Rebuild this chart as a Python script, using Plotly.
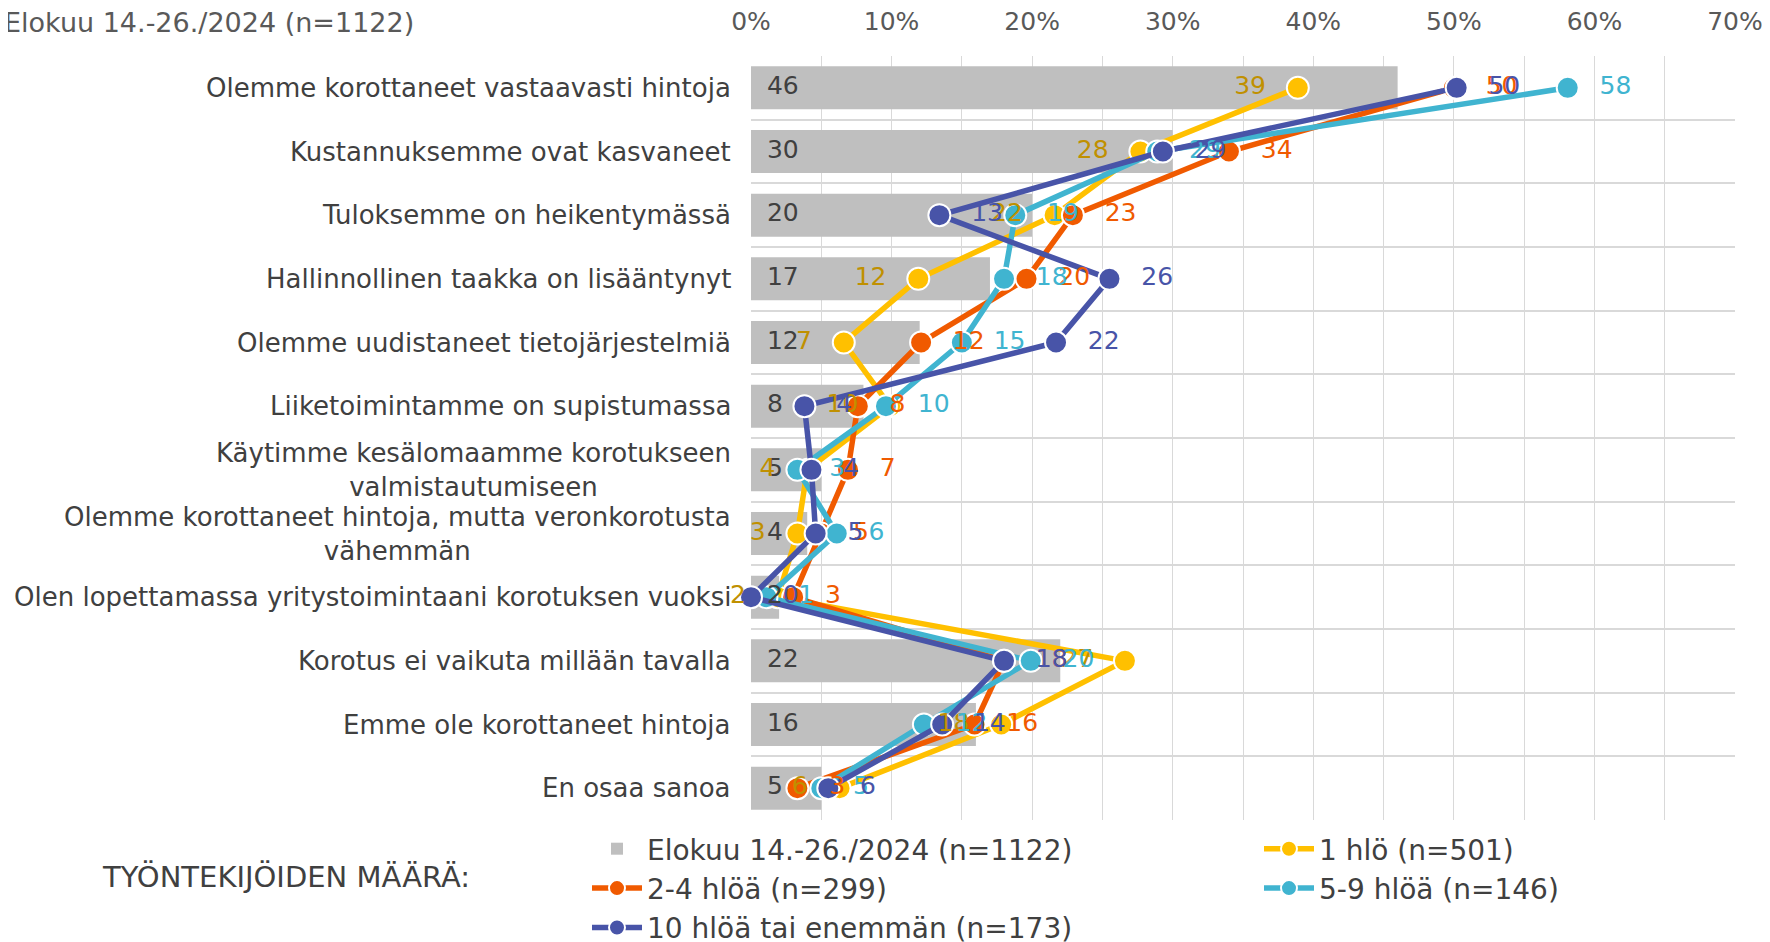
import plotly.graph_objects as go

categories = [
    "Olemme korottaneet vastaavasti hintoja",
    "Kustannuksemme ovat kasvaneet",
    "Tuloksemme on heikentymässä",
    "Hallinnollinen taakka on lisääntynyt",
    "Olemme uudistaneet tietojärjestelmiä",
    "Liiketoimintamme on supistumassa",
    "Käytimme kesälomaamme korotukseen<br>valmistautumiseen",
    "Olemme korottaneet hintoja, mutta veronkorotusta<br>vähemmän",
    "Olen lopettamassa yritystoimintaani korotuksen vuoksi",
    "Korotus ei vaikuta millään tavalla",
    "Emme ole korottaneet hintoja",
    "En osaa sanoa",
]
total_2024 = [46, 30, 20, 17, 12, 8, 5, 4, 2, 22, 16, 5]
hlo_1 = [38.9, 27.7, 21.6, 11.9, 6.6, 9.9, 4.0, 3.3, 1.9, 26.6, 17.8, 6.3]
hlo_2_4 = [50.0, 34.0, 22.9, 19.6, 12.1, 7.6, 6.9, 5.0, 3.0, 18.0, 15.9, 3.3]
hlo_5_9 = [58.1, 28.9, 18.8, 18.0, 15.0, 9.6, 3.3, 6.1, 1.1, 19.9, 12.3, 5.0]
hlo_10 = [50.2, 29.3, 13.4, 25.5, 21.7, 3.8, 4.3, 4.6, 0.0, 18.0, 13.6, 5.5]

series_names = ["1 hlö (n=501)", "2-4 hlöä (n=299)", "5-9 hlöä (n=146)", "10 hlöä tai enemmän (n=173)"]
bar_name = "Elokuu 14.-26./2024 (n=1122)"
title_text = "Elokuu 14.-26./2024 (n=1122)"
legend_title = "TYÖNTEKIJÖIDEN MÄÄRÄ:"
x_ticks = [0, 10, 20, 30, 40, 50, 60, 70]

FONT = "DejaVu Sans"
NB = "\u00a0"


def rnd(v):
    return int(v + 0.5)


fig = go.Figure()

fig.add_trace(go.Bar(
    x=total_2024, y=categories, orientation="h", name=bar_name,
    marker=dict(color="#BFBFBF", line=dict(width=0)), width=0.675,
    hoverinfo="x+y",
))

series = [
    (hlo_1, series_names[0], "#FFC000", "#C09000", "left"),
    (hlo_2_4, series_names[1], "#F05A00", "#F05A00", "right"),
    (hlo_5_9, series_names[2], "#40B4D0", "#40B4D0", "right"),
    (hlo_10, series_names[3], "#4854A8", "#4854A8", "right"),
]
# lines and markers first
for vals, name, col, lcol, side in series:
    fig.add_trace(go.Scatter(
        x=vals, y=categories, mode="lines+markers", name=name,
        line=dict(color=col, width=5.5),
        marker=dict(size=22, color=col, line=dict(color="white", width=2)),
        cliponaxis=False,
    ))

# data labels drawn on top of all marks
fig.add_trace(go.Scatter(
    x=[0] * len(total_2024), y=categories, mode="text",
    text=[NB + NB + str(v) for v in total_2024], textposition="middle right",
    textfont=dict(family=FONT, size=25, color="#404040"),
    showlegend=False, hoverinfo="skip", cliponaxis=False,
))
for vals, name, col, lcol, side in series:
    if side == "left":
        txt = [str(rnd(v)) + NB * 4 for v in vals]
        pos = "middle left"
    else:
        txt = [NB * 4 + str(rnd(v)) for v in vals]
        pos = "middle right"
    fig.add_trace(go.Scatter(
        x=vals, y=categories, mode="text", text=txt, textposition=pos,
        textfont=dict(family=FONT, size=25, color=lcol),
        showlegend=False, hoverinfo="skip", cliponaxis=False,
    ))

# page body has an 8px margin: work in screen pixels and convert
OFF = 8
W, H = 1770 - OFF, 942 - OFF
PL, PR, PT, PB = 751, 1735, 56, 820  # plot area in screen pixels
L, T = PL - OFF, PT - OFF
R = W - (PR - OFF)
B = H - (PB - OFF)
pw = W - L - R
ph = H - T - B


def px_x(p):
    return (p - OFF - L) / pw


def px_y(p):
    return (H - B - (p - OFF)) / ph


annotations = []
for c in categories:
    annotations.append(dict(
        x=px_x(733), xref="paper", y=c, yref="y", text=c, showarrow=False,
        xanchor="right", yanchor="middle", align="center",
        font=dict(family=FONT, size=26, color="#404040"),
    ))
annotations.append(dict(
    x=px_x(416), xref="paper", y=px_y(22), yref="paper", text=title_text,
    showarrow=False, xanchor="right", yanchor="middle",
    font=dict(family=FONT, size=27, color="#595959"),
))
annotations.append(dict(
    x=px_x(100), xref="paper", y=px_y(877), yref="paper", text=legend_title,
    showarrow=False, xanchor="left", yanchor="middle",
    font=dict(family=FONT, size=29, color="#404040"),
))

fig.update_layout(
    width=W, height=H,
    margin=dict(l=L, r=R, t=T, b=B, autoexpand=False),
    paper_bgcolor="white", plot_bgcolor="white",
    font=dict(family=FONT, color="#404040"),
    bargap=0.325,
    showlegend=True,
    legend=dict(
        orientation="h", x=px_x(587), xanchor="left", y=px_y(824), yanchor="top",
        font=dict(family=FONT, size=28, color="#404040"),
        entrywidth=607, itemwidth=50, traceorder="normal",
        bgcolor="rgba(0,0,0,0)",
    ),
    annotations=annotations,
)
fig.update_xaxes(
    range=[0, 70], side="top", tickvals=x_ticks, ticktext=[f"{v}%" for v in x_ticks],
    tickfont=dict(family=FONT, size=25, color="#595959"),
    showgrid=True, gridcolor="#D9D9D9", gridwidth=1, zeroline=False,
    ticks="", ticklabelstandoff=20,
    minor=dict(dtick=5, tick0=0, showgrid=True, gridcolor="#D9D9D9", gridwidth=1),
    showline=False,
)
fig.update_yaxes(
    type="category", categoryorder="array", categoryarray=categories,
    range=[len(categories) - 0.5, -0.5], autorange=False,
    showticklabels=False, tickson="boundaries",
    showgrid=True, gridcolor="#D9D9D9", gridwidth=2, zeroline=False, ticks="",
)

fig.write_html("out.html")
